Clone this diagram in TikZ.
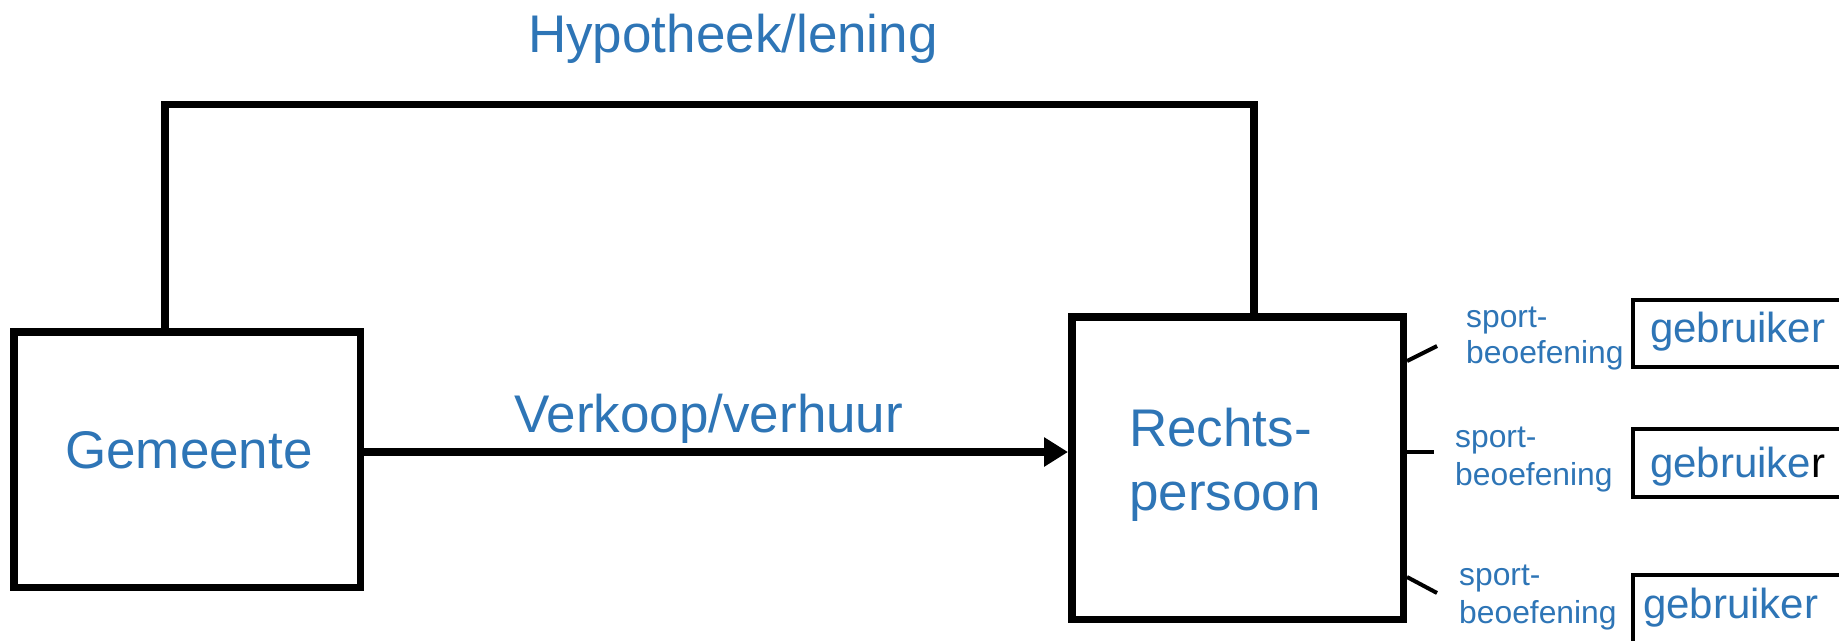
\documentclass[tikz,border=0pt]{standalone}
\usepackage{fontspec}
\setmainfont{Liberation Sans}
\usetikzlibrary{arrows.meta}
\definecolor{tblue}{RGB}{46,117,182}
\begin{document}
\begin{tikzpicture}[x=1pt,y=-1pt,
  bigbox/.style={draw=black,line width=7.5pt,rectangle,inner sep=0pt},
  userbox/.style={draw=black,line width=4pt,rectangle,inner sep=0pt},
  bigtext/.style={text=tblue,font=\fontsize{53}{64}\selectfont,inner sep=0pt,anchor=base west},
  usertext/.style={text=tblue,font=\fontsize{42}{50}\selectfont,inner sep=0pt,anchor=base west},
  sporttext/.style={text=tblue,font=\fontsize{31.8}{36}\selectfont,inner sep=0pt,anchor=base west},
  conn/.style={line width=7.5pt,line join=miter},
  stub/.style={line width=4pt},
  flow/.style={line width=7.5pt,-{Triangle[length=24pt,width=28pt]}}]
\path[use as bounding box,clip] (0,0) rectangle (1839,640);

% main boxes
\node[bigbox,minimum width=346.5pt,minimum height=255.5pt] (gem) at (187,459.5) {};
\node[bigbox,minimum width=331.5pt,minimum height=302.5pt] (rp) at (1237.5,468) {};
\node[bigtext] (gemt) at (65,468) {Gemeente};
\node[bigtext] (rpt1) at (1129,446) {Rechts-};
\node[bigtext] (rpt2) at (1129,510) {persoon};

% top connector
\coordinate (tl) at (165,104.5);
\coordinate (tr) at (1254,104.5);
\draw[conn] ([xshift=-22pt]gem.north) -- (tl) -- (tr) -- ([xshift=16.5pt]rp.north);
\node[bigtext] (hyp) at (528,52) {Hypotheek/lening};

% flow arrow
\draw[flow] ([yshift=7.5pt]gem.east) -- ([yshift=16pt]rp.west);
\node[bigtext] (verk) at (514,432) {Verkoop/verhuur};

% user boxes
\node[userbox,minimum width=240pt,minimum height=67pt] (u1) at (1753,333.5) {};
\node[userbox,minimum width=240pt,minimum height=68pt] (u2) at (1753,463) {};
\node[userbox,minimum width=240pt,minimum height=125pt] (u3) at (1753,637.5) {};
\node[usertext] (u1t) at (1650,342) {gebruiker};
\node[usertext] (u2t) at (1650,477) {gebruike\textcolor{black}{r}};
\node[usertext] (u3t) at (1643,618) {gebruiker};

% stubs
\coordinate (s1) at (1437,346);
\coordinate (s2) at (1434,452);
\coordinate (s3) at (1437,593);
\draw[stub] ([yshift=107pt]rp.east) -- (s1);
\draw[stub] ([yshift=16pt]rp.east) -- (s2);
\draw[stub] ([yshift=-109pt]rp.east) -- (s3);

% sport labels
\node[sporttext] (sp1a) at (1466,327) {sport-};
\node[sporttext] (sp1b) at (1466,363) {beoefening};
\node[sporttext] (sp2a) at (1455,447) {sport-};
\node[sporttext] (sp2b) at (1455,485) {beoefening};
\node[sporttext] (sp3a) at (1459,585) {sport-};
\node[sporttext] (sp3b) at (1459,623) {beoefening};
\end{tikzpicture}
\end{document}
